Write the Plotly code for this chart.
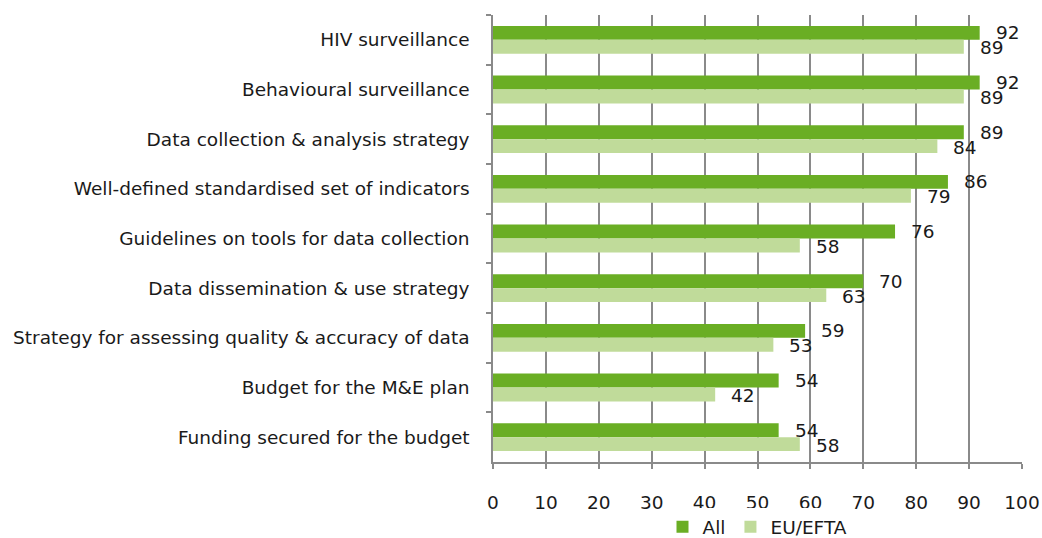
import plotly.graph_objects as go

categories = [
    "HIV surveillance",
    "Behavioural surveillance",
    "Data collection & analysis strategy",
    "Well-defined standardised set of indicators",
    "Guidelines on tools for data collection",
    "Data dissemination & use strategy",
    "Strategy for assessing quality & accuracy of data",
    "Budget for the M&E plan",
    "Funding secured for the budget",
]
all_values = [92, 92, 89, 86, 76, 70, 59, 54, 54]
eu_efta_values = [89, 89, 84, 79, 58, 63, 53, 42, 58]
x_ticks = list(range(0, 101, 10))

DARK = "#6AAE24"
LIGHT = "#C0DB9A"
FONT = "DejaVu Sans"
TEXT_COLOR = "#1a1a1a"
SIZE = 18.5

fig = go.Figure()
fig.add_trace(go.Bar(
    y=categories, x=all_values, name="All", orientation="h",
    marker=dict(color=DARK, line=dict(width=0)),
))
fig.add_trace(go.Bar(
    y=categories, x=eu_efta_values, name="EU/EFTA", orientation="h",
    marker=dict(color=LIGHT, line=dict(width=0)),
))

# value labels just past the end of each bar
for cat, a, e in zip(categories, all_values, eu_efta_values):
    fig.add_annotation(x=a, y=cat, text=str(a), showarrow=False,
                       xanchor="left", yanchor="middle", xshift=14, yshift=7,
                       font=dict(family=FONT, size=SIZE, color=TEXT_COLOR))
    fig.add_annotation(x=e, y=cat, text=str(e), showarrow=False,
                       xanchor="left", yanchor="middle", xshift=14, yshift=-8,
                       font=dict(family=FONT, size=SIZE, color=TEXT_COLOR))

fig.update_layout(
    width=1042, height=538,
    margin=dict(l=493, r=20, t=15, b=76),
    barmode="group", bargap=0.44, bargroupgap=0,
    plot_bgcolor="white", paper_bgcolor="white",
    font=dict(family=FONT, size=SIZE, color=TEXT_COLOR),
    showlegend=True,
    legend=dict(orientation="h", x=0.5, xanchor="center",
                yref="container", y=0.02, yanchor="middle",
                font=dict(size=SIZE), itemwidth=30, traceorder="normal"),
)
fig.update_xaxes(
    range=[0, 100], tickvals=x_ticks, ticktext=[str(v) for v in x_ticks],
    showgrid=True, gridcolor="#8a8a8a", gridwidth=1.5,
    showline=True, linecolor="#8a8a8a", linewidth=1.5,
    ticks="outside", ticklen=5, tickcolor="#8a8a8a", tickwidth=1.5,
    ticklabelstandoff=18, zeroline=False, automargin=False,
    tickfont=dict(size=SIZE),
)
fig.update_yaxes(
    autorange="reversed", tickson="boundaries",
    showline=True, linecolor="#8a8a8a", linewidth=1.5,
    ticks="outside", ticklen=5, tickcolor="#8a8a8a", tickwidth=1.5,
    ticklabelstandoff=18, showgrid=False, automargin=False,
    tickfont=dict(size=SIZE),
)

fig.write_html("out.html")
